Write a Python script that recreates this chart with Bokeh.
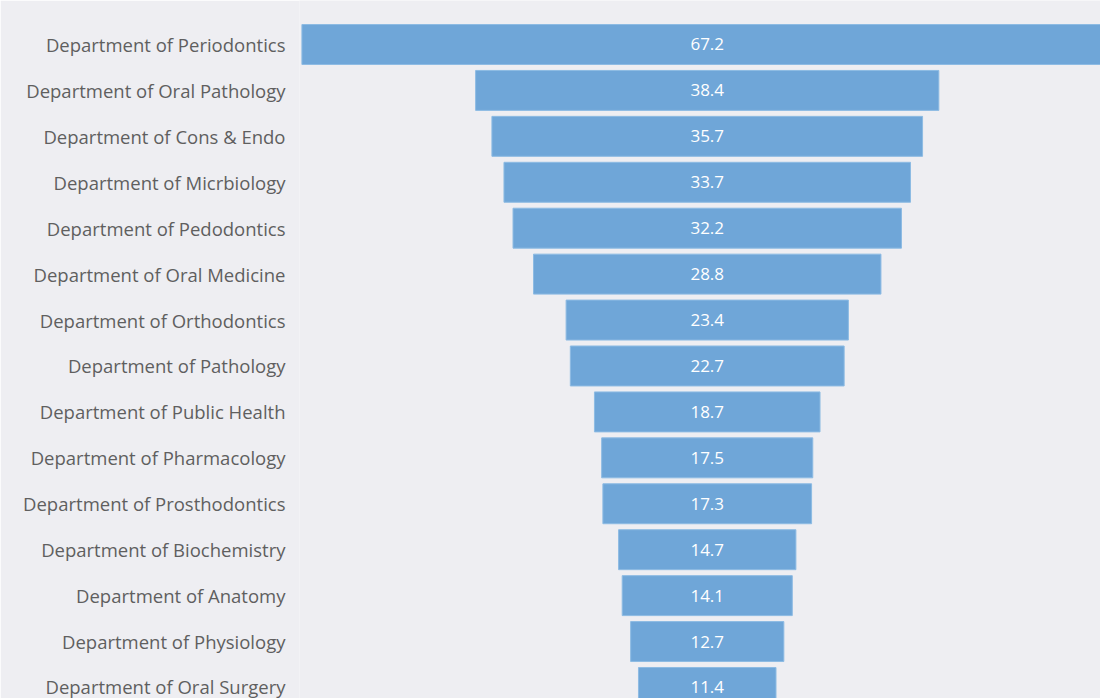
from bokeh.plotting import figure
from bokeh.models import Range1d, FixedTicker, ColumnDataSource
from bokeh.core.properties import value
from bokeh.embed import file_html
from bokeh.resources import INLINE

departments = [
    "Department of Periodontics",
    "Department of Oral Pathology",
    "Department of Cons & Endo",
    "Department of Micrbiology",
    "Department of Pedodontics",
    "Department of Oral Medicine",
    "Department of Orthodontics",
    "Department of Pathology",
    "Department of Public Health",
    "Department of Pharmacology",
    "Department of Prosthodontics",
    "Department of Biochemistry",
    "Department of Anatomy",
    "Department of Physiology",
    "Department of Oral Surgery",
]
values = [67.2, 38.4, 35.7, 33.7, 32.2, 28.8, 23.4, 22.7, 18.7, 17.5, 17.3, 14.7, 14.1, 12.7, 11.4]

idx = list(range(len(departments)))
src = ColumnDataSource(dict(
    y=idx,
    left=[-v / 2 for v in values],
    right=[v / 2 for v in values],
    label=[f"{v:.1f}" for v in values],
    x0=[0] * len(values),
))

BG = "#eeeef2"
p = figure(width=1100, height=698, output_backend="svg", toolbar_location=None,
           x_range=Range1d(-33.8, 32.6), y_range=Range1d(14.24, -0.958),
           min_border_left=299, min_border_right=0, min_border_top=0, min_border_bottom=0,
           background_fill_color=BG, border_fill_color=BG, outline_line_color=None)

p.hbar(y="y", left="left", right="right", height=0.87, source=src,
       fill_color="#6fa6d8", line_color="#8dbbe3", line_width=1)
p.text(x="x0", y="y", text="label", source=src, text_align="center", text_baseline="middle",
       text_color="white", text_font_size="17px", text_font=value("Open Sans"))

p.xaxis.visible = False
p.xgrid.visible = False
p.ygrid.visible = False
ya = p.yaxis[0]
ya.ticker = FixedTicker(ticks=idx)
ya.major_label_overrides = {i: d for i, d in zip(idx, departments)}
ya.axis_line_color = None
ya.major_tick_line_color = None
ya.minor_tick_line_color = None
ya.major_label_standoff = 8
ya.major_label_text_font = "Open Sans"
ya.major_label_text_font_size = "18.5px"
ya.major_label_text_color = "#5f5f5f"

open("out.html", "w").write(file_html(p, INLINE))
